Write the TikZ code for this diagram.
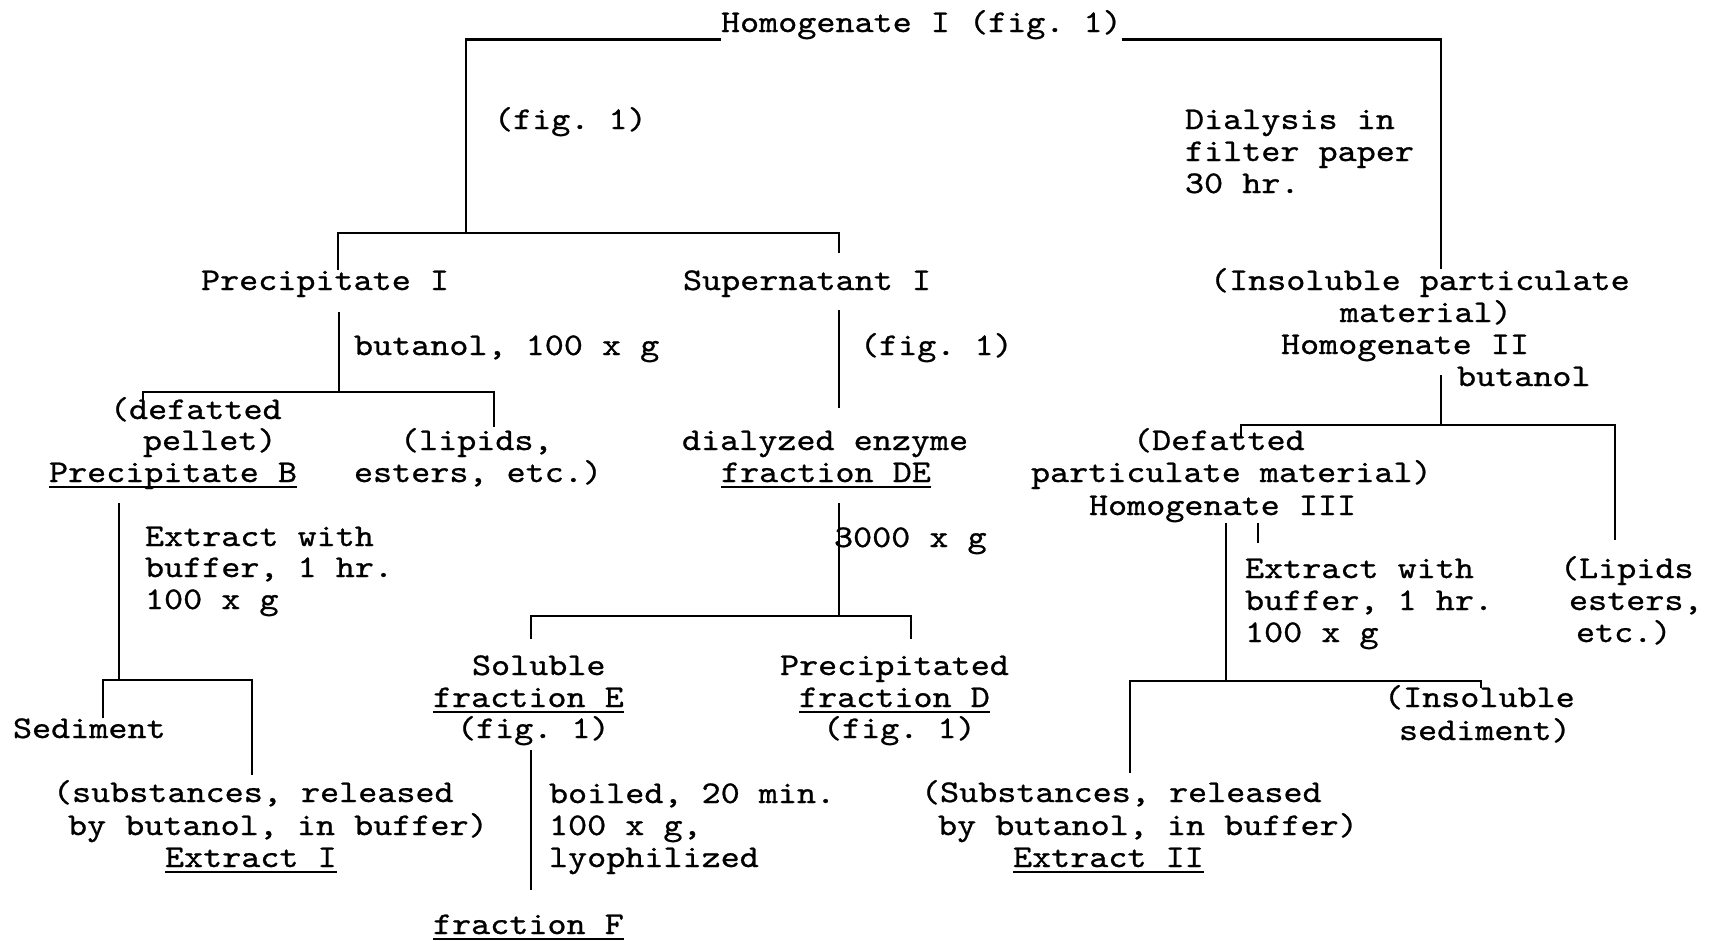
\documentclass[tikz,border=0pt]{standalone}
\usepackage{fontspec}
\setmonofont{lmmono10-regular.otf}[FakeStretch=1.15,FakeBold=0.8]
\newcommand\tul[1]{\setbox0=\hbox{#1}\rlap{\rule[-6pt]{\wd0}{2pt}}\box0}
\tikzset{
  txt/.style={anchor=base west, inner sep=0pt, outer sep=0pt, font=\ttfamily\fontsize{31.6pt}{32pt}\selectfont},
  ln/.style={line width=2.8pt, line cap=butt, line join=miter}
}
\begin{document}
\begin{tikzpicture}[x=1pt,y=-1pt]
\useasboundingbox[fill=white] (0,0) rectangle (1720,940);
% ---- text nodes
\node[txt] (hom1) at (721,32) {Homogenate I (fig. 1)};
\node[txt] (fig1a) at (494,129) {(fig. 1)};
\node[txt] (dial1) at (1185,129) {Dialysis in};
\node[txt] (dial2) at (1185,161) {filter paper};
\node[txt] (dial3) at (1185,193) {30 hr.};
\node[txt] (precI) at (201,290) {Precipitate I};
\node[txt] (supI) at (683,290) {Supernatant I};
\node[txt] (insol1) at (1210,290) {(Insoluble particulate};
\node[txt] (insol2) at (1340,322) {material)};
\node[txt] (hom2) at (1281,354) {Homogenate II};
\node[txt] (but1) at (354,355) {butanol, 100 x g};
\node[txt] (fig1b) at (860,355) {(fig. 1)};
\node[txt] (but2) at (1457,386) {butanol};
\node[txt] (def1) at (110,419) {(defatted};
\node[txt] (def2) at (143,450) {pellet)};
\node[txt] (precB) at (49,482) {\tul{Precipitate B}};
\node[txt] (lip1) at (400,450) {(lipids,};
\node[txt] (lip2) at (354,482) {esters, etc.)};
\node[txt] (dia1) at (682,450) {dialyzed enzyme};
\node[txt] (fracDE) at (721,482) {\tul{fraction DE}};
\node[txt] (Def1) at (1133,450) {(Defatted};
\node[txt] (Def2) at (1031,482) {particulate material)};
\node[txt] (hom3) at (1089,515) {Homogenate III};
\node[txt] (ext1a) at (145,546) {Extract with};
\node[txt] (ext1b) at (145,577) {buffer, 1 hr.};
\node[txt] (ext1c) at (145,609) {100 x g};
\node[txt] (g3000) at (834,547) {3000 x g};
\node[txt] (ext2a) at (1245,578) {Extract with};
\node[txt] (ext2b) at (1245,610) {buffer, 1 hr.};
\node[txt] (ext2c) at (1245,642) {100 x g};
\node[txt] (lipR1) at (1560,578) {(Lipids};
\node[txt] (lipR2) at (1569,610) {esters,};
\node[txt] (lipR3) at (1576,642) {etc.)};
\node[txt] (sol1) at (472,675) {Soluble};
\node[txt] (fracE) at (433,707) {\tul{fraction E}};
\node[txt] (fig1c) at (457,738) {(fig. 1)};
\node[txt] (prd1) at (780,675) {Precipitated};
\node[txt] (fracD) at (799,707) {\tul{fraction D}};
\node[txt] (fig1d) at (823,738) {(fig. 1)};
\node[txt] (sed) at (13,738) {Sediment};
\node[txt] (isd1) at (1384,707) {(Insoluble};
\node[txt] (isd2) at (1399,740) {sediment)};
\node[txt] (sub1a) at (53,802) {(substances, released};
\node[txt] (sub1b) at (68,835) {by butanol, in buffer)};
\node[txt] (ext1) at (165,867) {\tul{Extract I}};
\node[txt] (boil1) at (549,803) {boiled, 20 min.};
\node[txt] (boil2) at (549,835) {100 x g,};
\node[txt] (boil3) at (549,867) {lyophilized};
\node[txt] (sub2a) at (921,802) {(Substances, released};
\node[txt] (sub2b) at (938,835) {by butanol, in buffer)};
\node[txt] (ext2) at (1013,867) {\tul{Extract II}};
\node[txt] (fracF) at (433,934) {\tul{fraction F}};
% ---- junction coordinates
\coordinate (tl) at (466,39.5);
\coordinate (tr) at (1441,39.5);
\coordinate (trb) at (1441,269);
\coordinate (j1) at (466,233);
\coordinate (j1l) at (338,233);
\coordinate (j1r) at (839,233);
\coordinate (pIl) at (338,270);
\coordinate (sIr) at (839,253);
\coordinate (pIt) at (339,312);
\coordinate (j2) at (339,392);
\coordinate (j2l) at (143,392);
\coordinate (j2r) at (494,392);
\coordinate (j2ld) at (143,404);
\coordinate (j2rd) at (494,427);
\coordinate (sIt) at (839,310);
\coordinate (sIb) at (839,408);
\coordinate (deT) at (839,503);
\coordinate (j3) at (839,616);
\coordinate (j3l) at (531,616);
\coordinate (j3r) at (911,616);
\coordinate (j3ld) at (531,639);
\coordinate (j3rd) at (911,639);
\coordinate (eT) at (531,750);
\coordinate (eB) at (531,890);
\coordinate (pBt) at (119,503);
\coordinate (j4) at (119,680);
\coordinate (j4l) at (103,680);
\coordinate (j4r) at (252,680);
\coordinate (j4ld) at (103,718);
\coordinate (j4rd) at (252,775);
\coordinate (h2t) at (1441,375);
\coordinate (j5) at (1441,425);
\coordinate (j5l) at (1241,425);
\coordinate (j5r) at (1615,425);
\coordinate (j5ld) at (1241,438);
\coordinate (j5rd) at (1615,540);
\coordinate (h3t) at (1226,523);
\coordinate (j6) at (1226,681);
\coordinate (j6l) at (1130,681);
\coordinate (j6r) at (1481,681);
\coordinate (j6ld) at (1130,773);
\coordinate (j6rd) at (1481,688);
\coordinate (tkA) at (1258,523);
\coordinate (tkB) at (1258,543);
% ---- connectors
\draw[ln] (hom1.west |- tl) -- (tl) -- (j1);
\draw[ln] (hom1.east |- tr) -- (tr) -- (trb);
\draw[ln] (pIl) -- (j1l) -- (j1r) -- (sIr);
\draw[ln] (pIt) -- (j2);
\draw[ln] (j2ld) -- (j2l) -- (j2r) -- (j2rd);
\draw[ln] (sIt) -- (sIb);
\draw[ln] (deT) -- (j3);
\draw[ln] (j3ld) -- (j3l) -- (j3r) -- (j3rd);
\draw[ln] (eT) -- (eB);
\draw[ln] (pBt) -- (j4);
\draw[ln] (j4ld) -- (j4l) -- (j4r) -- (j4rd);
\draw[ln] (h2t) -- (j5);
\draw[ln] (j5ld) -- (j5l) -- (j5r) -- (j5rd);
\draw[ln] (h3t) -- (j6);
\draw[ln] (j6ld) -- (j6l) -- (j6r) -- (j6rd);
\draw[ln] (tkA) -- (tkB);
\end{tikzpicture}
\end{document}
